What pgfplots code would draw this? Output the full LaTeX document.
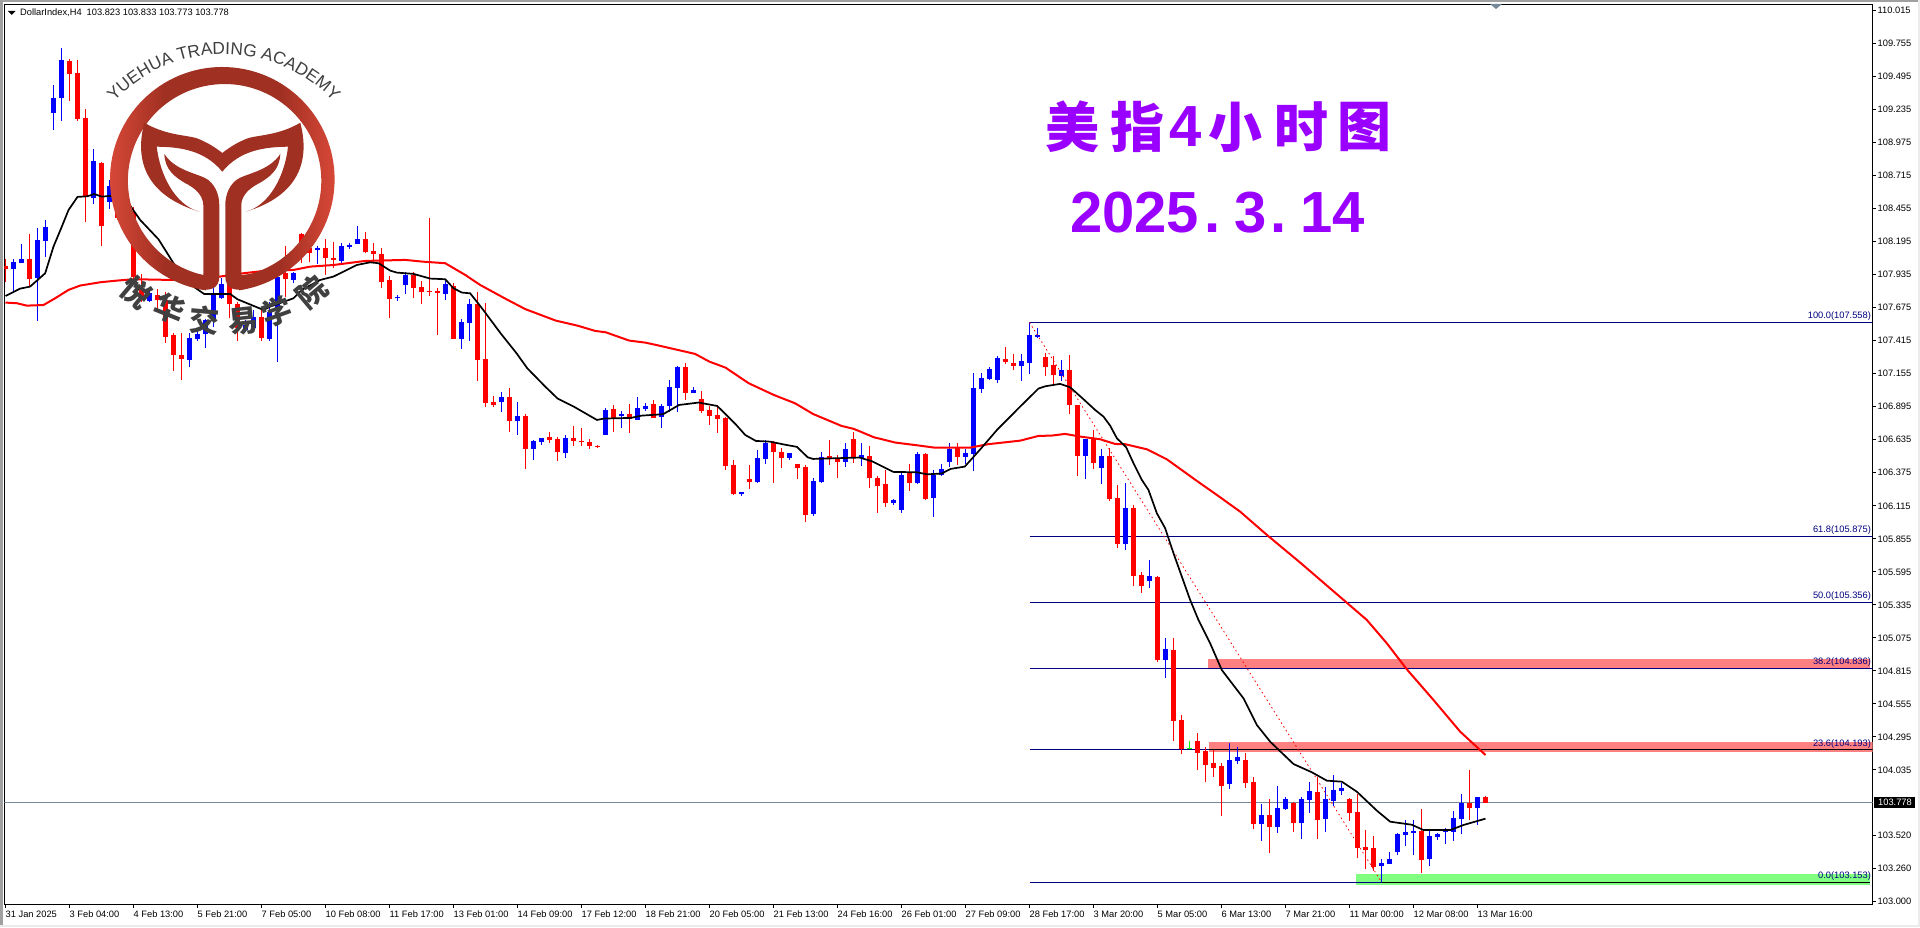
\documentclass[border=0pt]{standalone}
\usepackage{fontspec}
\setmainfont{Liberation Sans}
\newfontfamily\cjk{Noto Sans CJK SC}
\usepackage{pgfplots}
\usepackage{pgfplotstable}
\pgfplotsset{compat=1.18}
\usetikzlibrary{decorations.text}

\definecolor{bullc}{HTML}{0000FF}
\definecolor{bearc}{HTML}{FF0000}
\definecolor{fibc}{HTML}{000080}
\definecolor{zoner}{HTML}{FF8080}
\definecolor{zoneg}{HTML}{80FF80}
\definecolor{lastc}{HTML}{778899}
\definecolor{titlec}{HTML}{9900FF}
\definecolor{logod}{HTML}{A03022}
\definecolor{logol}{HTML}{DE4B3B}
\definecolor{logot}{HTML}{404040}
\definecolor{chrome}{HTML}{A0A0A0}
\pgfdeclarehorizontalshading{ringsh}{100bp}{color(0bp)=(logol); color(25bp)=(logol); color(38bp)=(logod); color(62bp)=(logod); color(75bp)=(logol); color(100bp)=(logol)}

% bars: index, low, body bottom, body top, high
\pgfplotstableread{
i low bot top high
1 107.788 107.983 108.035 108.056
2 108.030 108.030 108.056 108.177
4 107.573 107.909 108.208 108.300
5 108.077 108.203 108.308 108.366
6 109.074 109.211 109.326 109.429
7 109.148 109.329 109.626 109.717
11 108.492 108.539 108.828 108.922
13 108.450 108.507 108.633 108.681
15 108.339 108.392 108.523 108.576
18 107.723 107.731 107.788 107.815
23 107.211 107.263 107.434 107.473
24 107.416 107.426 107.468 107.500
25 107.360 107.468 107.578 107.584
26 107.526 107.573 107.788 107.841
27 107.744 107.749 107.862 107.906
30 107.486 107.500 107.539 107.578
31 107.500 107.513 107.605 107.657
33 107.416 107.429 107.644 107.723
34 107.250 107.670 107.920 107.946
36 107.867 107.893 107.946 107.959
39 108.019 108.132 108.148 108.161
42 108.025 108.046 108.161 108.182
43 108.135 108.153 108.169 108.182
44 108.177 108.177 108.216 108.318
49 107.731 107.749 107.757 107.778
50 107.783 107.854 107.933 107.959
55 107.736 107.786 107.862 107.888
57 107.353 107.431 107.563 107.586
58 107.416 107.557 107.704 107.744
62 106.854 106.933 106.972 107.009
64 106.673 106.783 106.823 106.933
66 106.476 106.563 106.626 106.634
67 106.594 106.618 106.649 106.649
70 106.492 106.531 106.649 106.673
75 106.673 106.673 106.870 106.886
77 106.728 106.823 106.838 106.862
79 106.791 106.791 106.886 106.972
80 106.862 106.878 106.901 106.925
82 106.728 106.815 106.901 106.917
83 106.854 106.901 107.051 107.106
84 106.854 107.043 107.208 107.216
86 107.004 107.004 107.027 107.051
92 106.193 106.208 106.224 106.224
94 106.295 106.303 106.492 106.555
95 106.445 106.484 106.610 106.634
98 106.476 106.492 106.531 106.531
101 106.035 106.051 106.311 106.334
102 106.295 106.303 106.500 106.539
105 106.421 106.460 106.563 106.610
107 106.429 106.492 106.516 106.610
111 106.122 106.138 106.161 106.169
112 106.059 106.082 106.358 106.382
114 106.287 106.295 106.523 106.539
116 106.027 106.177 106.358 106.397
117 106.350 106.358 106.405 106.445
118 106.421 106.460 106.563 106.610
120 106.445 106.500 106.531 106.563
121 106.390 106.523 107.043 107.161
122 107.004 107.035 107.122 107.161
123 107.106 107.114 107.193 107.208
124 107.082 107.106 107.279 107.295
127 107.098 107.216 107.256 107.311
128 107.153 107.240 107.460 107.563
129 107.437 107.447 107.460 107.516
132 107.098 107.138 107.185 107.264
135 106.327 106.508 106.642 106.642
137 106.287 106.413 106.508 106.563
140 105.767 105.815 106.098 106.295
143 105.468 105.523 105.563 105.689
145 104.759 104.901 104.988 105.075
153 103.885 103.925 104.114 104.247
154 104.082 104.106 104.137 104.216
157 103.476 103.610 103.681 103.767
159 103.539 103.586 103.736 103.909
160 103.720 103.728 103.807 103.822
162 103.492 103.618 103.807 103.822
163 103.696 103.799 103.870 103.940
165 103.547 103.649 103.807 103.901
166 103.751 103.791 103.877 103.996
167 103.838 103.870 103.893 103.933
172 103.153 103.279 103.303 103.334
173 103.295 103.295 103.334 103.389
174 103.366 103.389 103.531 103.539
175 103.436 103.523 103.547 103.641
176 103.366 103.539 103.555 103.641
178 103.279 103.334 103.515 103.562
179 103.484 103.507 103.531 103.539
180 103.452 103.547 103.562 103.578
181 103.476 103.547 103.657 103.712
182 103.531 103.649 103.775 103.846
184 103.602 103.736 103.822 103.822
}\bull

\pgfplotstableread{
i low bot top high
0 107.880 107.983 108.004 108.056
3 107.841 107.904 108.056 108.255
8 109.303 109.518 109.618 109.633
9 109.148 109.161 109.521 109.626
10 108.353 108.549 109.169 109.240
12 108.164 108.318 108.812 108.825
14 108.366 108.379 108.549 108.628
16 107.867 107.920 108.418 108.471
17 107.723 107.736 107.820 107.941
19 107.657 107.736 107.775 107.820
20 107.400 107.447 107.736 107.801
21 107.179 107.303 107.460 107.473
22 107.106 107.274 107.303 107.473
28 107.591 107.704 107.867 107.906
29 107.416 107.513 107.704 107.723
32 107.416 107.434 107.599 107.657
35 107.762 107.904 107.946 108.161
37 108.025 108.103 108.253 108.261
38 108.038 108.103 108.143 108.208
40 107.933 108.069 108.145 108.213
41 107.985 108.051 108.069 108.192
45 108.103 108.114 108.216 108.269
46 108.025 108.098 108.119 108.182
47 107.830 107.880 108.098 108.143
48 107.597 107.744 107.893 107.925
51 107.754 107.830 107.930 107.956
52 107.704 107.799 107.838 107.885
53 107.767 107.799 107.807 108.379
54 107.460 107.794 107.807 107.828
56 107.431 107.431 107.846 107.867
59 107.101 107.263 107.704 107.801
60 106.896 106.928 107.271 107.710
61 106.896 106.909 106.933 106.980
63 106.697 106.783 106.972 107.043
65 106.405 106.563 106.823 106.836
68 106.610 106.634 106.657 106.697
69 106.468 106.539 106.642 106.660
71 106.586 106.626 106.649 106.744
72 106.586 106.618 106.626 106.728
73 106.563 106.586 106.618 106.642
74 106.571 106.581 106.586 106.597
76 106.697 106.807 106.878 106.909
78 106.689 106.799 106.838 106.917
81 106.807 106.807 106.917 106.949
85 106.949 107.004 107.208 107.240
87 106.846 106.862 106.956 107.019
88 106.752 106.823 106.870 106.901
89 106.689 106.799 106.830 106.893
90 106.397 106.429 106.809 106.817
91 106.201 106.208 106.437 106.476
93 106.248 106.303 106.327 106.437
96 106.295 106.539 106.610 106.626
97 106.413 106.492 106.539 106.571
99 106.327 106.413 106.445 106.445
100 105.988 106.043 106.421 106.437
103 106.437 106.484 106.508 106.634
104 106.334 106.460 106.492 106.516
106 106.453 106.492 106.642 106.697
108 106.256 106.334 106.508 106.586
109 106.059 106.271 106.334 106.350
110 106.106 106.138 106.287 106.397
113 106.232 106.295 106.374 106.445
115 106.161 106.169 106.523 106.531
119 106.437 106.500 106.571 106.610
125 107.232 107.248 107.271 107.366
126 107.185 107.216 107.240 107.311
130 107.138 107.208 107.287 107.319
131 107.067 107.145 107.224 107.295
133 106.838 106.909 107.185 107.303
134 106.350 106.508 106.909 106.909
136 106.405 106.453 106.642 106.712
138 106.153 106.169 106.508 106.571
139 105.783 105.815 106.177 106.279
141 105.484 105.563 106.098 106.122
142 105.429 105.484 105.571 105.594
144 104.888 104.901 105.555 105.563
146 104.266 104.423 104.980 105.075
147 104.161 104.198 104.429 104.468
149 104.035 104.169 104.263 104.326
150 103.940 104.074 104.185 104.216
151 103.980 104.051 104.090 104.192
152 103.673 103.909 104.066 104.090
155 103.893 103.933 104.114 104.169
156 103.570 103.610 103.940 103.980
158 103.381 103.586 103.681 103.807
161 103.547 103.618 103.778 103.783
164 103.492 103.641 103.862 103.980
168 103.633 103.696 103.807 103.814
169 103.342 103.421 103.704 103.846
170 103.255 103.405 103.429 103.562
171 103.240 103.271 103.421 103.515
177 103.224 103.326 103.555 103.728
183 103.641 103.736 103.775 104.035
185 103.773 103.778 103.823 103.833
}\bear

\pgfplotstableread{
i low bot top high
148 104.198 104.198 104.211 104.263
}\green

\pgfplotstableread{
x y
0 107.767
1.83 107.825
3.08 107.841
4.96 107.946
6.0 108.156
7.04 108.313
7.88 108.444
9.0 108.547
10.25 108.552
11.08 108.570
12.04 108.549
13.08 108.555
14.33 108.549
15.38 108.497
16.83 108.366
19.13 108.213
21.0 108.025
23.5 107.841
24.83 107.783
28.08 107.783
29.0 107.741
32.25 107.657
33.08 107.683
36.0 107.749
37.04 107.815
39.33 107.893
41.0 107.920
43.92 108.011
45.58 108.032
46.63 108.025
48.08 107.967
48.92 107.951
51.0 107.941
53.08 107.904
54.96 107.899
56.0 107.828
57.04 107.794
58.08 107.788
59.33 107.689
59.87 107.644
61.88 107.474
63.88 107.316
65.22 107.198
67.46 107.054
69.02 106.959
71.03 106.896
73.93 106.791
74.82 106.802
78.17 106.807
79.51 106.825
82.19 106.836
84.2 106.909
86.65 106.928
88.97 106.901
91.34 106.752
92.46 106.673
93.79 106.626
95.58 106.620
97.37 106.597
98.93 106.579
100.27 106.497
100.94 106.484
106.74 106.495
108.3 106.466
110.98 106.382
113.88 106.379
115.22 106.363
117.01 106.369
118.12 106.405
119.91 106.424
121.03 106.502
122.14 106.581
123.93 106.712
126.83 106.896
129.12 107.038
129.96 107.056
131.83 107.075
133.08 107.048
134.75 106.954
136.2 106.870
137.25 106.817
138.08 106.746
138.92 106.647
140.08 106.576
141.0 106.450
142.04 106.319
142.87 106.240
143.92 106.056
144.96 105.938
146.0 105.741
148.08 105.374
149.12 105.216
150.58 105.032
152.04 104.822
154.75 104.599
156.42 104.389
158.08 104.258
161.0 104.082
163.29 104.017
165.17 103.951
167.04 103.943
168.92 103.864
171.42 103.715
173.08 103.628
175.79 103.604
177.25 103.562
180.58 103.562
182.25 103.602
185.0 103.652
}\mablack

\pgfplotstableread{
x y
0 107.715
1.42 107.710
2.67 107.691
4.75 107.696
6.21 107.749
7.88 107.815
9.33 107.849
11.83 107.875
13.92 107.888
16.0 107.899
21.0 107.893
26.83 107.920
29.75 107.946
32.67 107.967
36.0 107.972
38.08 107.998
41.0 108.011
44.96 108.043
49.96 108.051
52.04 108.038
54.96 108.025
57.46 107.933
59.33 107.854
62.77 107.736
65.0 107.663
68.79 107.573
71.47 107.534
73.71 107.492
75.04 107.481
77.95 107.416
79.96 107.400
81.29 107.382
86.2 107.311
87.99 107.250
90.0 107.203
92.9 107.080
96.03 106.988
98.7 106.922
100.94 106.838
104.5 106.744
106.07 106.720
108.53 106.655
111.21 106.613
113.88 106.592
116.12 106.573
120.58 106.573
122.81 106.600
126.83 106.628
129.12 106.665
130.79 106.668
132.46 106.681
134.33 106.660
136.83 106.639
138.71 106.602
139.96 106.600
142.67 106.560
145.17 106.481
148.92 106.311
151.41 106.201
154.33 106.069
157.67 105.886
161.83 105.668
170.17 105.216
172.67 105.032
175.16 104.828
178.5 104.586
181.83 104.337
185.0 104.153
}\mared

\pgfplotsset{
  wick/.style={draw=none, mark=none, forget plot,
    error bars/.cd, y dir=plus, y explicit, error mark=none,
    error bar style={draw=#1, solid, line width=1pt}},
  cbody/.style={draw=none, mark=none, forget plot,
    error bars/.cd, y dir=plus, y explicit, error mark=none,
    error bar style={draw=#1, solid, line width=5pt}},
  fib/.style={color=fibc, line width=1pt, forget plot},
}

\newcommand{\bars}[2]{%
  \addplot[wick=#2] table[x=i, y=low, y error plus expr=\thisrow{high}-\thisrow{low}] {#1};
  \addplot[cbody=#2] table[x=i, y=bot, y error plus expr=\thisrow{top}-\thisrow{bot}] {#1};
}
\newcommand{\lab}{\fontsize{9.3}{10}\selectfont}

\begin{document}
\begin{tikzpicture}
\path[use as bounding box] (0,0) rectangle (1920pt,927pt);
\fill[white] (0,0) rectangle (1920pt,927pt);

\begin{axis}[
    at={(4.5pt,22.5pt)}, anchor=south west,
    scale only axis,
    width=1868pt, height=900pt,
    xmin=-0.125, xmax=233.375,
    ymin=102.976, ymax=110.062,
    axis line style={black, line width=1pt},
    tick style={black, line width=1pt},
    tick align=outside,
    major tick length=3pt,
    xtick pos=bottom, ytick pos=right,
    yticklabel pos=right,
    xtick={0,8,...,184},
    xticklabels={31 Jan 2025,3 Feb 04:00,4 Feb 13:00,5 Feb 21:00,7 Feb 05:00,10 Feb 08:00,11 Feb 17:00,13 Feb 01:00,14 Feb 09:00,17 Feb 12:00,18 Feb 21:00,20 Feb 05:00,21 Feb 13:00,24 Feb 16:00,26 Feb 01:00,27 Feb 09:00,28 Feb 17:00,3 Mar 20:00,5 Mar 05:00,6 Mar 13:00,7 Mar 21:00,11 Mar 00:00,12 Mar 08:00,13 Mar 16:00},
    ytick={103,103.26,103.52,104.035,104.295,104.555,104.815,105.075,105.335,105.595,105.855,106.115,106.375,106.635,106.895,107.155,107.415,107.675,107.935,108.195,108.455,108.715,108.975,109.235,109.495,109.755,110.015},
    scaled y ticks=false,
    /pgf/number format/fixed,
    /pgf/number format/fixed zerofill,
    /pgf/number format/precision=3,
    /pgf/number format/assume math mode=true,
    tick label style={font=\lab, inner sep=0pt},
    xticklabel style={anchor=north west, yshift=-3.5pt},
    yticklabel style={anchor=west, xshift=2pt},
    clip=true,
]
% zones
\addplot[fill=zoner, draw=none, forget plot] coordinates {(150.33,104.909)(233.08,104.909)(233.08,104.836)(150.33,104.836)} -- cycle;
\addplot[fill=zoner, draw=none, forget plot] coordinates {(150.46,104.255)(233.375,104.255)(233.375,104.176)(150.46,104.176)} -- cycle;
\addplot[fill=zoneg, draw=none, forget plot] coordinates {(168.83,103.216)(233.08,103.216)(233.08,103.129)(168.83,103.129)} -- cycle;
% fibonacci levels
\addplot[fib] coordinates {(128,107.558)(233.375,107.558)};
\addplot[fib] coordinates {(128,105.875)(233.375,105.875)};
\addplot[fib] coordinates {(128,105.356)(233.375,105.356)};
\addplot[fib] coordinates {(128,104.836)(233.375,104.836)};
\addplot[fib] coordinates {(128,104.193)(150.46,104.193)};
\addplot[fib] coordinates {(128,103.153)(172,103.153)};
\addplot[black, line width=1pt, forget plot] coordinates {(150.46,104.193)(233.375,104.193)};
\addplot[black, line width=1pt, forget plot] coordinates {(172,103.153)(233.08,103.153)};
% last price
\addplot[lastc, line width=1pt, forget plot] coordinates {(-0.125,103.778)(233.375,103.778)};
% candles
\bars{\bull}{bullc}
\bars{\bear}{bearc}
\bars{\green}{green}
% trend line of the fibonacci tool
\addplot[bearc, line width=0.8pt, dash pattern=on 1.5pt off 3pt, forget plot] coordinates {(128,107.558)(172,103.153)};
% moving averages
\addplot[bearc, line width=2pt, forget plot] table[x=x, y=y] {\mared};
\addplot[black, line width=1.7pt, forget plot] table[x=x, y=y] {\mablack};
% fibonacci labels
\node[fibc, font=\lab, anchor=south east, inner sep=0pt, yshift=1.5pt] at (axis cs:233.2,107.558) {100.0(107.558)};
\node[fibc, font=\lab, anchor=south east, inner sep=0pt, yshift=1.5pt] at (axis cs:233.2,105.875) {61.8(105.875)};
\node[fibc, font=\lab, anchor=south east, inner sep=0pt, yshift=1.5pt] at (axis cs:233.2,105.356) {50.0(105.356)};
\node[fibc, font=\lab, anchor=south east, inner sep=0pt, yshift=1.5pt] at (axis cs:233.2,104.836) {38.2(104.836)};
\node[fibc, font=\lab, anchor=south east, inner sep=0pt, yshift=1.5pt] at (axis cs:233.2,104.193) {23.6(104.193)};
\node[fibc, font=\lab, anchor=south east, inner sep=0pt, yshift=1.5pt] at (axis cs:233.2,103.153) {0.0(103.153)};
\end{axis}

% everything below in screen pixels, y down
\begin{scope}[x=1pt, y=-1pt, yshift=927pt]
% window edges
\fill[chrome] (0,0) rectangle (1920,2);
\fill[chrome] (0,0) rectangle (2.7,925);
\fill[black!8] (0,925) rectangle (1920,927);
\fill[black!8] (1918,0) rectangle (1920,927);
% header
\fill[black] (8,11) -- (15.5,11) -- (11.75,15) -- cycle;
\node[anchor=west, font=\lab, inner sep=0pt] at (20,12.5) {DollarIndex,H4\hspace{5pt}103.823 103.833 103.773 103.778};
\fill[lastc] (1490,4) -- (1502,4) -- (1496,9) -- cycle;
% last price flag
\fill[black] (1874,797) rectangle (1915,808);
\node[anchor=west, font=\lab, text=white, inner sep=0pt] at (1878,802.5) {103.778};
% titles
\foreach \cx/\ch in {1072/美,1137/指,1235/小,1301/时,1364/图}
  \node[titlec, font={\cjk\bfseries\fontsize{54}{54}\selectfont}, inner sep=0pt] at (\cx,127) {\ch};
\node[titlec, font={\bfseries\fontsize{58}{58}\selectfont}, inner sep=0pt] at (1186,127) {4};
\node[titlec, font={\bfseries\fontsize{58}{58}\selectfont}, inner sep=0pt, anchor=base west] at (1070,232.7) {2025\hspace{5pt}.\hspace{14pt}3\hspace{4pt}.\hspace{14pt}14};
% logo
\shade[shading=ringsh]
  (222.3,179.3) ++(98.5:112.3) arc[start angle=98.5, end angle=441.5, radius=112.3]
  -- ++(0,-14) arc[start angle=441.5, end angle=98.5, radius=96.7] -- cycle;
% crescent band
\fill[logod] (144.3,122.7)
  .. controls (165,135) and (185,135) .. (196,138)
  .. controls (207,142) and (216,148) .. (222.3,153)
  .. controls (228.6,148) and (237.6,142) .. (248.6,138)
  .. controls (259.6,135) and (279.6,135) .. (300.3,122.7)
  .. controls (310,160) and (300,195) .. (246,211.7)
  .. controls (270,205) and (285,175) .. (288,146.7)
  .. controls (265,147) and (240,150) .. (222.3,171.7)
  .. controls (204.6,150) and (179.6,147) .. (156.7,146.7)
  .. controls (160,175) and (175,205) .. (199.3,211.7)
  .. controls (145,195) and (134.6,160) .. (144.3,122.7) -- cycle;
% left leaf and stem
\fill[logod] (164.3,154)
  .. controls (175,170) and (195,173) .. (205,178)
  .. controls (215,183) and (219.3,195) .. (219.3,205)
  -- (219.3,276)
  .. controls (219.3,289) and (210,291) .. (200,289)
  .. controls (190,286) and (185,280) .. (175,272)
  -- (203.3,275) -- (203.3,205)
  .. controls (203,195) and (195,188) .. (185,183)
  .. controls (175,177) and (165,170) .. (164.3,154) -- cycle;
% right leaf and stem
\fill[logod] (280.3,154)
  .. controls (269.6,170) and (249.6,173) .. (239.6,178)
  .. controls (229.6,183) and (225.3,195) .. (225.3,205)
  -- (225.3,276)
  .. controls (225.3,289) and (234.6,291) .. (244.6,289)
  .. controls (254.6,286) and (259.6,280) .. (269.6,272)
  -- (241.3,275) -- (241.3,205)
  .. controls (241.6,195) and (249.6,188) .. (259.6,183)
  .. controls (269.6,177) and (279.6,170) .. (280.3,154) -- cycle;
% college name
\foreach \cx/\cy/\rot/\ch in {136.7/292/-40/悦,170/308.3/-22/华,204/320.7/-5/交,243.3/321.7/6/易,276.7/311.7/20/学,311.7/291.7/40/院}
  \node[logot, font={\cjk\bfseries\fontsize{30}{30}\selectfont}, inner sep=0pt, rotate=\rot] at (\cx,\cy) {\ch};
\path[decorate, decoration={text along path, text align=center,
    text={|\fontsize{17.3}{17.3}\selectfont\color{logot}|YUEHUA TRADING ACADEMY}}]
  (112.8,102.7) arc[start angle=222.7, end angle=317.3, radius=151];
\end{scope}
\end{tikzpicture}
\end{document}
